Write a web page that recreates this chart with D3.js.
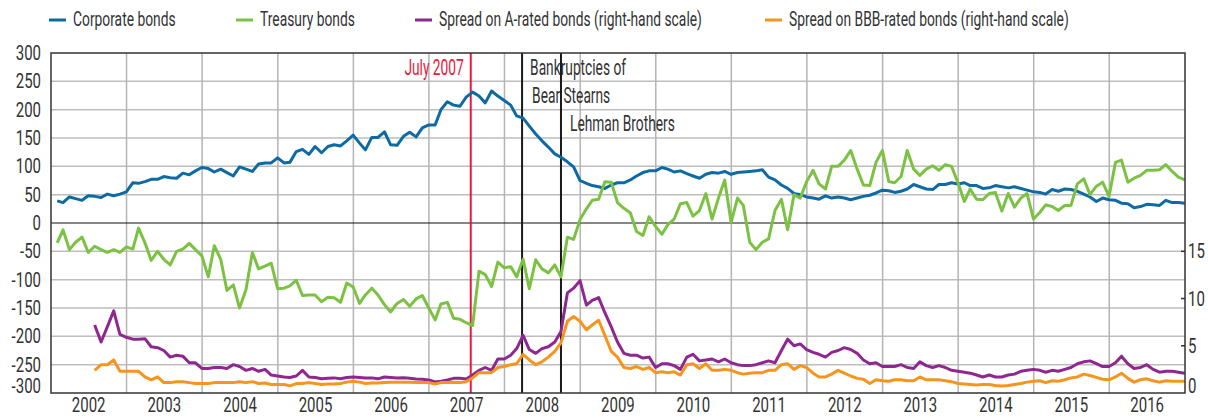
<!DOCTYPE html>
<html>
<head>
<meta charset="utf-8">
<script src="https://cdn.jsdelivr.net/npm/d3@7"></script>
<style>
  body { margin: 0; background: #fff; }
  svg { display: block; }
  text { font-family: Roboto, "Liberation Sans", sans-serif; fill: #333; }
</style>
</head>
<body>
<div id="chart"></div>
<script>
const width = 1208, height = 418;
const plot = {left: 51, right: 1185, top: 53, bottom: 393};

// monthly observations, Jan 2002 - Dec 2016 (basis points)
const corporate = [
  39, 36, 46, 43, 40, 48, 47, 45, 51, 48, 51, 55,
  71, 70, 73, 77, 77, 82, 80, 79, 88, 85, 92, 98,
  96, 90, 95, 89, 83, 99, 95, 91, 104, 106, 106, 115,
  106, 107, 126, 130, 121, 135, 124, 135, 138, 136, 145, 155,
  141, 129, 151, 151, 161, 138, 137, 153, 160, 152, 168, 173,
  173, 200, 214, 208, 206, 222, 231, 224, 212, 233, 224, 216,
  208, 189, 185, 171, 157, 145, 134, 122, 116, 108, 99, 75,
  70, 66, 64, 61, 67, 71, 71, 76, 83, 89, 92, 92,
  98, 95, 90, 92, 87, 83, 79, 86, 89, 88, 91, 86,
  89, 90, 91, 92, 94, 81, 76, 67, 61, 52, 50, 46,
  44, 42, 48, 44, 46, 44, 41, 44, 47, 49, 53, 58,
  57, 54, 56, 60, 68, 64, 60, 59, 68, 68, 71, 69,
  71, 66, 66, 61, 62, 66, 64, 62, 64, 61, 58, 55,
  54, 51, 59, 56, 60, 59, 56, 51, 46, 38, 44, 41,
  40, 35, 34, 27, 29, 33, 32, 31, 40, 36, 36, 35
];
const treasury = [
  -35, -12, -47, -34, -25, -52, -41, -47, -52, -47, -52, -42,
  -46, -9, -35, -66, -50, -64, -74, -50, -46, -36, -47, -58,
  -95, -40, -64, -119, -109, -150, -118, -52, -81, -76, -71, -116,
  -115, -111, -101, -128, -127, -127, -139, -131, -132, -140, -106, -113,
  -142, -127, -115, -127, -144, -157, -142, -135, -147, -134, -128, -150,
  -171, -143, -140, -168, -170, -176, -181, -85, -91, -112, -69, -79,
  -77, -95, -64, -116, -65, -81, -88, -74, -95, -25, -29, 6,
  25, 40, 42, 73, 72, 36, 26, 18, -15, -22, 11, -6,
  -20, -3, 7, 34, 36, 12, 22, 52, 7, 44, 76, 1,
  44, 31, -34, -47, -34, -28, 22, 42, -12, 50, 44, 73,
  93, 69, 60, 100, 100, 111, 128, 95, 67, 66, 107, 128,
  73, 71, 82, 128, 95, 84, 95, 101, 93, 103, 100, 71,
  38, 60, 42, 41, 52, 54, 21, 52, 28, 44, 52, 7,
  19, 32, 29, 22, 31, 31, 69, 78, 50, 65, 72, 47,
  107, 111, 72, 79, 84, 93, 93, 94, 103, 91, 81, 76
];
// spreads start in July 2002 (percentage points, right-hand scale)
const spreadStart = 6;
const spreadA = [
  7.2, 5.4, 7.0, 8.7, 6.2, 5.9,
  5.7, 5.7, 5.75, 4.9, 4.8, 4.5, 3.8, 4.0, 3.9, 3.2, 3.2, 2.6,
  2.6, 2.7, 2.7, 2.6, 3.0, 2.8, 2.4, 2.6, 2.3, 2.5, 1.9, 1.8,
  1.7, 1.65, 1.8, 2.4, 1.7, 1.65, 1.5, 1.55, 1.6, 1.5, 1.65, 1.7,
  1.65, 1.6, 1.6, 1.5, 1.7, 1.65, 1.6, 1.62, 1.55, 1.48, 1.45, 1.38,
  1.16, 1.24, 1.38, 1.55, 1.55, 1.48, 1.9, 2.4, 2.7, 2.4, 3.6, 3.6,
  4.0, 4.7, 6.1, 4.6, 4.2, 4.7, 4.9, 5.4, 6.5, 10.6, 11.1, 11.9,
  9.3, 9.8, 10.1, 8.5, 7.0, 5.4, 4.2, 4.0, 4.0, 3.7, 3.8, 2.7,
  3.1, 3.1, 2.9, 2.5, 3.8, 4.1, 3.4, 3.5, 3.6, 3.3, 3.6, 3.2,
  3.0, 2.9, 2.9, 3.0, 3.2, 3.4, 3.2, 4.5, 5.7, 5.0, 5.2, 4.6,
  4.3, 4.1, 3.8, 4.3, 4.5, 4.8, 4.6, 4.2, 3.5, 3.1, 3.2, 2.8,
  2.8, 2.8, 3.0, 2.7, 2.6, 3.3, 2.9, 2.7, 2.9, 2.7, 2.4, 2.3,
  2.2, 2.1, 1.9, 1.7, 1.9, 1.7, 1.7, 1.9, 2.0, 2.3, 2.4, 2.5,
  2.4, 2.2, 2.4, 2.3, 2.5, 2.7, 3.1, 3.3, 3.4, 3.1, 2.8, 2.8,
  3.2, 3.9, 3.1, 2.6, 2.7, 3.0, 2.5, 2.2, 2.3, 2.3, 2.2, 2.1
];
const spreadBBB = [
  2.4, 3.0, 3.0, 3.5, 2.3, 2.3,
  2.3, 2.3, 1.7, 1.4, 1.7, 1.1, 1.1, 1.2, 1.2, 1.1, 1.0, 1.0,
  1.0, 1.1, 1.1, 1.1, 1.1, 1.2, 1.1, 1.2, 1.0, 1.05, 0.9, 0.9,
  0.9, 0.75, 1.0, 1.0, 1.1, 1.0, 0.9, 0.95, 0.95, 1.0, 1.15, 1.25,
  1.15, 1.0, 1.05, 1.05, 1.1, 1.15, 1.15, 1.15, 1.15, 1.1, 1.1, 1.1,
  0.95, 1.1, 1.1, 1.15, 1.1, 1.2, 1.6, 2.15, 2.15, 2.15, 2.7, 2.8,
  3.0, 3.1, 4.1, 3.5, 3.0, 3.3, 3.8, 4.4, 5.3, 7.6, 8.1, 7.6,
  6.7, 7.2, 7.7, 6.1, 4.4, 3.8, 2.7, 2.6, 2.8, 2.5, 2.7, 2.15,
  2.25, 2.15, 2.25, 1.9, 3.0, 3.1, 2.6, 3.1, 2.4, 2.4, 2.5, 2.4,
  2.15, 2.0, 2.1, 2.15, 2.15, 2.4, 2.4, 3.0, 3.1, 2.5, 2.9, 2.7,
  2.1, 1.7, 1.7, 2.0, 2.4, 2.1, 1.8, 1.55, 1.45, 1.0, 1.4, 1.3,
  1.25, 1.4, 1.4, 1.3, 1.3, 1.7, 1.4, 1.4, 1.4, 1.3, 1.2, 1.0,
  0.95, 0.9, 0.85, 0.9, 0.9, 0.8, 0.75, 0.8, 0.9, 1.0, 1.15, 1.25,
  1.3, 1.1, 1.3, 1.25, 1.4, 1.6, 1.7, 2.0, 1.85, 1.65, 1.45, 1.4,
  1.7, 2.1, 1.55, 1.15, 1.4, 1.5, 1.3, 1.15, 1.3, 1.25, 1.25, 1.25
];

const leftTicks = [-300, -250, -200, -150, -100, -50, 0, 50, 100, 150, 200, 250, 300];
const rightTicks = [0, 5, 10, 15];
const years = d3.range(2002, 2017);

const series = [
  {name: "Corporate bonds", values: corporate, start: 0, side: "left", color: "#0e6aa3"},
  {name: "Treasury bonds", values: treasury, start: 0, side: "left", color: "#7cc242"},
  {name: "Spread on A-rated bonds (right-hand scale)", values: spreadA, start: spreadStart, side: "right", color: "#8e278f"},
  {name: "Spread on BBB-rated bonds (right-hand scale)", values: spreadBBB, start: spreadStart, side: "right", color: "#f7941d"}
];

const events = [
  {date: new Date(2007, 6, 22), color: "#e8193c", labels: [{text: "July 2007", dx: -7, y: 75, anchor: "end", color: "#e8193c"}]},
  {date: new Date(2008, 2, 26), color: "#1a1a1a", labels: [{text: "Bankruptcies of", dx: 8, y: 75}, {text: "Bear Stearns", dx: 10, y: 103}]},
  {date: new Date(2008, 8, 30), color: "#1a1a1a", labels: [{text: "Lehman Brothers", dx: 9, y: 131}]}
];

// the original uses a condensed face; squeeze the available one horizontally
const squeezeNum = 0.75, squeezeNote = 0.625, squeezeLegend = 0.675;
const legendX = [49, 236, 415, 765];

const monthDate = i => new Date(2002, i + 1, 0);

const x = d3.scaleTime()
  .domain([new Date(2002, 0, 1), new Date(2017, 0, 1)])
  .range([plot.left, plot.right]);
const yL = d3.scaleLinear().domain([-300, 300]).range([plot.bottom, plot.top]);
const yR = d3.scaleLinear().domain([0, 36]).range([plot.bottom, plot.top]);

const svg = d3.select("#chart").append("svg")
  .attr("width", width)
  .attr("height", height);

// grid
const grid = svg.append("g");
grid.selectAll(".hgrid")
  .data(leftTicks.filter(v => v !== 0 && Math.abs(v) !== 300))
  .join("line")
  .attr("x1", plot.left).attr("x2", plot.right)
  .attr("y1", d => yL(d)).attr("y2", d => yL(d))
  .attr("stroke", "#bdbdbd").attr("stroke-width", 1.5);
grid.selectAll(".vgrid")
  .data(years.slice(1))
  .join("line")
  .attr("x1", d => x(new Date(d, 0, 1))).attr("x2", d => x(new Date(d, 0, 1)))
  .attr("y1", plot.top).attr("y2", plot.bottom)
  .attr("stroke", "#b4b4b4").attr("stroke-width", 1.5);
grid.append("line")
  .attr("x1", plot.left).attr("x2", plot.right)
  .attr("y1", yL(0)).attr("y2", yL(0))
  .attr("stroke", "#111").attr("stroke-width", 1.2);

// event markers
const ev = svg.append("g");
events.forEach(e => {
  const ex = x(e.date);
  ev.append("line")
    .attr("x1", ex).attr("x2", ex)
    .attr("y1", plot.top).attr("y2", plot.bottom)
    .attr("stroke", e.color).attr("stroke-width", 2);
  e.labels.forEach(l => {
    ev.append("text")
      .attr("transform", `translate(${ex + l.dx},${l.y}) scale(${squeezeNote},1)`)
      .attr("text-anchor", l.anchor || "start")
      .style("font-size", "22px")
      .style("fill", l.color || "#333")
      .text(l.text);
  });
});

// lines
const lineGroup = svg.append("g");
series.forEach(s => {
  const yScale = s.side === "left" ? yL : yR;
  const line = d3.line()
    .x((d, i) => x(monthDate(i + s.start)))
    .y(d => yScale(d));
  lineGroup.append("path")
    .datum(s.values)
    .attr("fill", "none")
    .attr("stroke", s.color)
    .attr("stroke-width", 3)
    .attr("stroke-linejoin", "round")
    .attr("d", line);
});

// frame
svg.append("rect")
  .attr("x", plot.left).attr("y", plot.top)
  .attr("width", plot.right - plot.left).attr("height", plot.bottom - plot.top)
  .attr("fill", "none").attr("stroke", "#333").attr("stroke-width", 1.5);

// left axis labels
svg.append("g").selectAll("text")
  .data(leftTicks)
  .join("text")
  .attr("transform", d => `translate(41,${yL(d) + (d === -300 ? -7 : 0)}) scale(${squeezeNum},1)`)
  .attr("dy", "0.35em")
  .attr("text-anchor", "end")
  .style("font-size", "20px")
  .text(d => d);

// right axis ticks + labels
const rAxis = svg.append("g");
rAxis.selectAll("line")
  .data(rightTicks.filter(d => d > 0))
  .join("line")
  .attr("x1", plot.right - 4).attr("x2", plot.right)
  .attr("y1", d => yR(d)).attr("y2", d => yR(d))
  .attr("stroke", "#333").attr("stroke-width", 1.5);
rAxis.selectAll("text")
  .data(rightTicks)
  .join("text")
  .attr("transform", d => `translate(${plot.right + 3},${yR(d) + (d === 0 ? -7 : 0)}) scale(${squeezeNum},1)`)
  .attr("dy", "0.35em")
  .style("font-size", "20px")
  .text(d => d);

// year labels
svg.append("g").selectAll("text")
  .data(years)
  .join("text")
  .attr("transform", d => `translate(${x(new Date(d, 6, 2))},412) scale(${squeezeNum},1)`)
  .attr("text-anchor", "middle")
  .style("font-size", "20px")
  .text(d => d);

// legend
const legend = svg.append("g");
series.forEach((s, i) => {
  const lx = legendX[i];
  legend.append("line")
    .attr("x1", lx).attr("x2", lx + 17)
    .attr("y1", 20).attr("y2", 20)
    .attr("stroke", s.color).attr("stroke-width", 3);
  legend.append("text")
    .attr("transform", `translate(${lx + 24},26) scale(${squeezeLegend},1)`)
    .style("font-size", "20.5px")
    .text(s.name);
});
</script>
</body>
</html>
